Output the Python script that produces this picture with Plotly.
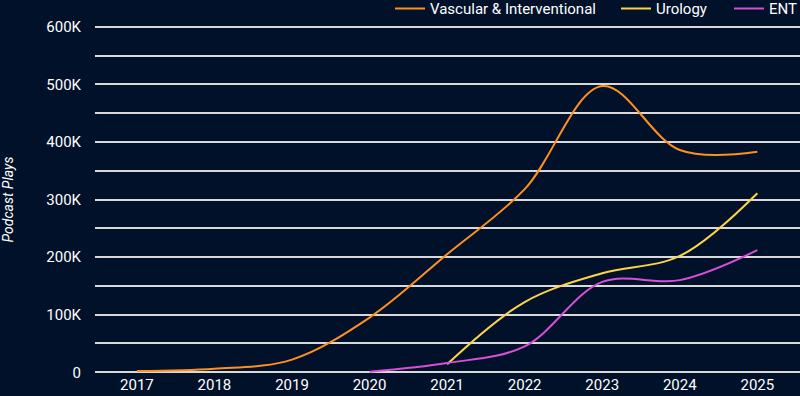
import plotly.graph_objects as go

years = [2017, 2018, 2019, 2020, 2021, 2022, 2023, 2024, 2025]
vascular = [2000, 6000, 22000, 95000, 205000, 318000, 497000, 386000, 383000]
urology_years = [2021, 2022, 2023, 2024, 2025]
urology = [14000, 122000, 172000, 202000, 311000]
ent_years = [2020, 2021, 2022, 2023, 2024, 2025]
ent = [1000, 16000, 45000, 157000, 160000, 212000]

y_labels = ["0", "100K", "200K", "300K", "400K", "500K", "600K"]

bg = "#001129"
fig = go.Figure()
fig.add_trace(go.Scatter(x=years, y=vascular, name="Vascular & Interventional", mode="lines",
                         legend="legend",
                         line=dict(color="#ff8f1f", width=2, shape="spline", smoothing=1)))
fig.add_trace(go.Scatter(x=urology_years, y=urology, name="Urology", mode="lines",
                         legend="legend2",
                         line=dict(color="#fcd447", width=2, shape="spline", smoothing=1)))
fig.add_trace(go.Scatter(x=ent_years, y=ent, name="ENT", mode="lines",
                         legend="legend3",
                         line=dict(color="#d84fd6", width=2, shape="spline", smoothing=1)))

def leg(xpx):
    return dict(orientation="h", x=(xpx - 95) / 705, xanchor="left", yref="paper", y=1.094,
                yanchor="top", font=dict(size=15, color="#ffffff"), bgcolor="rgba(0,0,0,0)",
                itemwidth=30)

fig.update_layout(
    width=800, height=396,
    paper_bgcolor=bg, plot_bgcolor=bg,
    margin=dict(l=95, r=0, t=25, b=22, autoexpand=False),
    font=dict(family="Roboto", size=15, color="#ffffff"),
    showlegend=True,
    legend=leg(390), legend2=leg(616), legend3=leg(729),
    xaxis=dict(range=[2016.46, 2025.55], tickmode="array", tickvals=years,
               ticktext=[str(y) for y in years], showgrid=False, zeroline=False,
               showline=False, ticks="", tickfont=dict(size=15, color="#ffffff")),
    yaxis=dict(range=[-3000, 603000], tickmode="array",
               tickvals=[i * 50000 for i in range(13)],
               ticktext=[y_labels[i // 2] if i % 2 == 0 else "" for i in range(13)],
               showgrid=True, gridcolor="#d9d9d9", gridwidth=1.5, zeroline=False,
               showline=False, ticks="", ticklabelstandoff=13,
               tickfont=dict(size=15, color="#ffffff"),
               title=dict(text="<i>Podcast Plays</i>", font=dict(size=14, color="#ffffff"), standoff=30)),
)
fig.write_html("out.html", config={"displayModeBar": False},
               post_script="document.body.style.margin='0';document.body.style.background='#001129';")
